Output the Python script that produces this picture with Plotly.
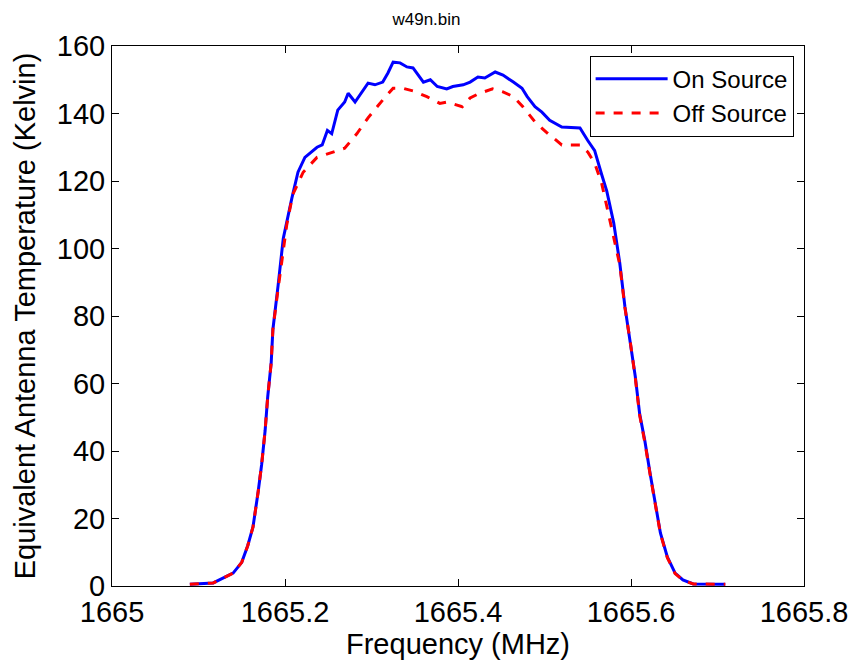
import plotly.graph_objects as go

freq_on = [1665.090, 1665.117, 1665.140, 1665.150, 1665.157, 1665.163, 1665.169, 1665.173,
           1665.177, 1665.180, 1665.184, 1665.186, 1665.192, 1665.198, 1665.208, 1665.215,
           1665.223, 1665.237, 1665.243, 1665.249, 1665.254, 1665.261, 1665.269, 1665.273,
           1665.281, 1665.290, 1665.296, 1665.304, 1665.313, 1665.319, 1665.325, 1665.333,
           1665.341, 1665.348, 1665.360, 1665.368, 1665.376, 1665.387, 1665.394, 1665.406,
           1665.414, 1665.423, 1665.431, 1665.443, 1665.452, 1665.464, 1665.474, 1665.480,
           1665.489, 1665.497, 1665.506, 1665.520, 1665.541, 1665.550, 1665.558, 1665.566,
           1665.572, 1665.580, 1665.587, 1665.593, 1665.599, 1665.605, 1665.610, 1665.616,
           1665.622, 1665.628, 1665.634, 1665.642, 1665.651, 1665.660, 1665.672, 1665.709]
temp_on = [0.5, 0.9, 3.8, 7, 12, 17.5, 28, 36,
           46, 56, 66, 76, 89, 103, 115, 122.6,
           127, 130, 130.7, 135, 134, 141, 143.4, 146,
           143.4, 147, 149, 148.5, 149.3, 152, 155.2, 155,
           153.8, 153.5, 149.3, 150, 148, 147.3, 148, 148.5,
           149.3, 150.8, 150.5, 152.3, 151.4, 149.3, 147.5, 145,
           142, 140.4, 138, 136, 135.7, 132, 129, 122,
           117, 107.6, 95.7, 82.7, 73, 62, 51, 43,
           33.5, 24.6, 15.7, 8.6, 3.8, 1.8, 0.6, 0.5]

freq_off = [1665.090, 1665.117, 1665.140, 1665.150, 1665.157, 1665.163, 1665.169, 1665.173,
            1665.177, 1665.180, 1665.184, 1665.186, 1665.192, 1665.198, 1665.202, 1665.209,
            1665.221, 1665.237, 1665.256, 1665.269, 1665.283, 1665.296, 1665.313, 1665.325,
            1665.336, 1665.348, 1665.364, 1665.379, 1665.387, 1665.405, 1665.414, 1665.425,
            1665.440, 1665.452, 1665.464, 1665.475, 1665.489, 1665.502, 1665.520, 1665.541,
            1665.550, 1665.558, 1665.566, 1665.576, 1665.582, 1665.587, 1665.593, 1665.599,
            1665.605, 1665.610, 1665.616, 1665.622, 1665.628, 1665.634, 1665.642, 1665.651,
            1665.660, 1665.672, 1665.709]
temp_off = [0.5, 0.9, 3.8, 7, 12, 17.5, 28, 36,
            46, 56, 66, 76, 88, 100, 107, 116,
            122.6, 127, 128.6, 129.7, 134, 138.7, 144, 147.5,
            147.5, 146.7, 145, 143, 143.4, 142, 144.6, 146,
            147.3, 146.4, 145, 142, 137.5, 134.5, 130.7, 130.7,
            128.6, 125.3, 119.4, 108.4, 101, 95.2, 82.4, 72.6,
            61.6, 50.6, 42.6, 33.2, 24.3, 15.5, 8.4, 3.7,
            1.7, 0.6, 0.5]

x_ticks = [1665, 1665.2, 1665.4, 1665.6, 1665.8]
x_labels = ["1665", "1665.2", "1665.4", "1665.6", "1665.8"]
y_ticks = [0, 20, 40, 60, 80, 100, 120, 140, 160]

fig = go.Figure()
fig.add_trace(go.Scatter(x=freq_on, y=temp_on, mode="lines", name="On Source",
                         line=dict(color="#0000ff", width=3)))
fig.add_trace(go.Scatter(x=freq_off, y=temp_off, mode="lines", name="Off Source",
                         line=dict(color="#ff0000", width=3, dash="dash")))

font_family = "Liberation Sans, Arial, sans-serif"
axis_common = dict(showgrid=False, zeroline=False, showline=True, linecolor="black",
                   linewidth=1, mirror="ticks", ticks="inside", ticklen=7,
                   tickcolor="black", automargin=False,
                   tickfont=dict(size=29, color="black", family=font_family))

fig.update_layout(
    width=853, height=661,
    paper_bgcolor="white", plot_bgcolor="white",
    margin=dict(l=112, r=49, t=46, b=75),
    title=dict(text="w49n.bin", x=0.5, xanchor="center", y=1 - 19 / 661, yanchor="middle",
               font=dict(size=17, color="black", family=font_family)),
    xaxis=dict(range=[1665, 1665.8], tickvals=x_ticks, ticktext=x_labels,
               title=dict(text="Frequency (MHz)", standoff=4,
                          font=dict(size=29, color="black", family=font_family)),
               **axis_common),
    yaxis=dict(range=[0, 160], tickvals=y_ticks,
               title=dict(text="Equivalent Antenna Temperature (Kelvin)", standoff=12,
                          font=dict(size=29, color="black", family=font_family)),
               **axis_common),
    legend=dict(x=0.985, y=0.982, xanchor="right", yanchor="top",
                bgcolor="white", bordercolor="black", borderwidth=1,
                font=dict(size=24, color="black", family=font_family),
                tracegroupgap=0, itemwidth=72),
    showlegend=True,
)

fig.write_html("out.html")
